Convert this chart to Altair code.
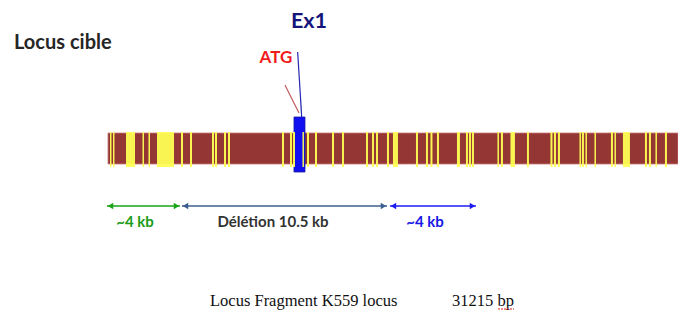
import altair as alt
import pandas as pd

# ---- data (positions in bp along the locus) ----
locus_length = 31215
stripe_start = [108, 270, 972, 1863, 2187, 2646, 3942, 4428, 5616, 5778, 6264, 6480,
                9396, 9828, 9990, 10503, 10746, 11178, 12096, 12636, 13932, 14256, 14472,
                15066, 15390, 16632, 17172, 17415, 17766, 18846, 19332, 19494, 19656,
                21033, 21222, 21735, 22626, 23895, 24084, 24300, 25461, 25596, 25785,
                26271, 27162, 27351, 27810, 28998, 29214, 29565, 30078]
stripe_end = [189, 351, 1458, 1944, 2268, 3564, 4050, 4536, 5724, 5886, 6372, 6588,
              9504, 9936, 10098, 10584, 10854, 11286, 12204, 12744, 14040, 14364, 14580,
              15174, 15660, 16740, 17280, 17523, 17874, 19008, 19440, 19602, 19764,
              21114, 21330, 21978, 22734, 24003, 24192, 24408, 25542, 25704, 25866,
              26352, 27270, 27432, 28188, 29106, 29322, 29646, 30186]
exon_start = [10044]
exon_end = [10638]
exon_label = ["Ex1"]
exon_label_pos = [10854]
exon_line = [10460, 10244]
atg_label = ["ATG"]
atg_label_pos = [9072]
atg_line = [10314, 9558]

arrow_part = ["gauche", "deletion", "droite"]
arrow_start = [-54, 3996, 15228]
arrow_end = [3888, 15066, 19872]
arrow_text = ["~4 kb", "Délétion 10.5 kb", "~4 kb"]
arrow_text_pos = [1458, 8910, 17118]

title_text = ["Locus cible"]
caption_text = ["Locus Fragment K559 locus", f"{locus_length} bp"]

# ---- styling ----
arrow_colors = ["#1aa51a", "#3b5f8e", "#1c1cf5"]
arrow_text_colors = ["#1a9c1a", "#333333", "#1717e6"]

x_scale = alt.Scale(domain=[-5400, 30783], nice=False, zero=False, clamp=True)


def X(field):
    return alt.X(field, type="quantitative", scale=x_scale, axis=None)


bar_df = pd.DataFrame({"start": [0], "end": [locus_length]})
stripe_df = pd.DataFrame({"start": stripe_start, "end": stripe_end})
exon_df = pd.DataFrame({"start": exon_start, "end": exon_end, "label": exon_label,
                        "pos": exon_label_pos, "l1": [exon_line[0]], "l2": [exon_line[1]]})
atg_df = pd.DataFrame({"label": atg_label, "pos": atg_label_pos,
                       "l1": [atg_line[0]], "l2": [atg_line[1]]})
arrow_df = pd.DataFrame({"part": arrow_part, "start": arrow_start, "end": arrow_end,
                         "text": arrow_text, "tpos": arrow_text_pos})
text_df = pd.DataFrame({"tpart": arrow_part, "text": arrow_text, "tpos": arrow_text_pos})
title_df = pd.DataFrame({"t": title_text})
cap_df = pd.DataFrame({"t": caption_text})

bar = alt.Chart(bar_df).mark_rect(color="#943634", stroke="#c97a7a", strokeWidth=0.8).encode(
    x=X("start"), x2="end", y=alt.value(125), y2=alt.value(156))

exon = alt.Chart(exon_df).mark_rect(color="#1010f0", stroke="#1a1aa0", strokeWidth=0.8).encode(
    x=X("start"), x2="end", y=alt.value(109), y2=alt.value(164))

stripes = alt.Chart(stripe_df).mark_rect(color="#ffff55", opacity=0.95).encode(
    x=X("start"), x2="end", y=alt.value(124), y2=alt.value(159))

exon_rule = alt.Chart(exon_df).mark_rule(color="#2626b0", strokeWidth=1.2).encode(
    x=X("l1"), x2="l2", y=alt.value(109), y2=alt.value(44))
exon_txt = alt.Chart(exon_df).mark_text(font="Lato", fontWeight="bold", fontSize=21.5,
                                        color="#14147a", baseline="middle").encode(
    x=X("pos"), y=alt.value(14), text="label")

atg_rule = alt.Chart(atg_df).mark_rule(color="#c05a5a", strokeWidth=1.2).encode(
    x=X("l1"), x2="l2", y=alt.value(105), y2=alt.value(77))
atg_txt = alt.Chart(atg_df).mark_text(font="Lato", fontWeight="bold", fontSize=17,
                                      color="#f01c1c", baseline="middle").encode(
    x=X("pos"), y=alt.value(50), text="label")

acol = alt.Color("part:N", scale=alt.Scale(domain=arrow_part, range=arrow_colors), legend=None)
tcol = alt.Color("tpart:N", scale=alt.Scale(domain=arrow_part, range=arrow_text_colors), legend=None)

shafts = alt.Chart(arrow_df).mark_rule(strokeWidth=1.5).encode(
    x=X("start"), x2="end", y=alt.value(198), color=acol)
head_l = alt.Chart(arrow_df).mark_point(shape="triangle-left", filled=True, size=40,
                                        opacity=1, xOffset=3.5).encode(
    x=X("start"), y=alt.value(198), color=acol)
head_r = alt.Chart(arrow_df).mark_point(shape="triangle-right", filled=True, size=40,
                                        opacity=1, xOffset=-3.5).encode(
    x=X("end"), y=alt.value(198), color=acol)
arrow_txt = alt.Chart(text_df).mark_text(font="Lato", fontWeight="bold", fontSize=15,
                                         baseline="middle").encode(
    x=X("tpos"), y=alt.value(214), text="text", color=tcol)

title = alt.Chart(title_df).mark_text(font="Lato", fontWeight="bold", fontSize=20,
                                      color="#262626", align="left", baseline="middle").encode(
    x=alt.value(6), y=alt.value(35), text="t")

cap1 = alt.Chart(cap_df.iloc[[0]]).mark_text(font="Liberation Serif", fontSize=16.5,
                                             color="#111111", align="left", baseline="middle").encode(
    x=alt.value(202), y=alt.value(293), text="t")
cap2 = alt.Chart(cap_df.iloc[[1]]).mark_text(font="Liberation Serif", fontSize=16.5,
                                             color="#111111", align="left", baseline="middle").encode(
    x=alt.value(444), y=alt.value(293), text="t")
squiggle = alt.Chart(cap_df.iloc[[1]]).mark_rule(color="#e02020", strokeWidth=1.2,
                                                strokeDash=[2, 1]).encode(
    x=alt.value(490), x2=alt.value(506), y=alt.value(301))

chart = alt.layer(bar, exon, stripes, exon_rule, atg_rule, exon_txt, atg_txt,
                  shafts, head_l, head_r, arrow_txt, title, cap1, cap2, squiggle).properties(
    width=670, height=307,
    autosize=alt.AutoSizeParams(type="none"),
    padding=0,
).resolve_scale(color="independent").configure_view(stroke=None)

chart.save("out.html", embed_options={"renderer": "svg", "actions": False})
